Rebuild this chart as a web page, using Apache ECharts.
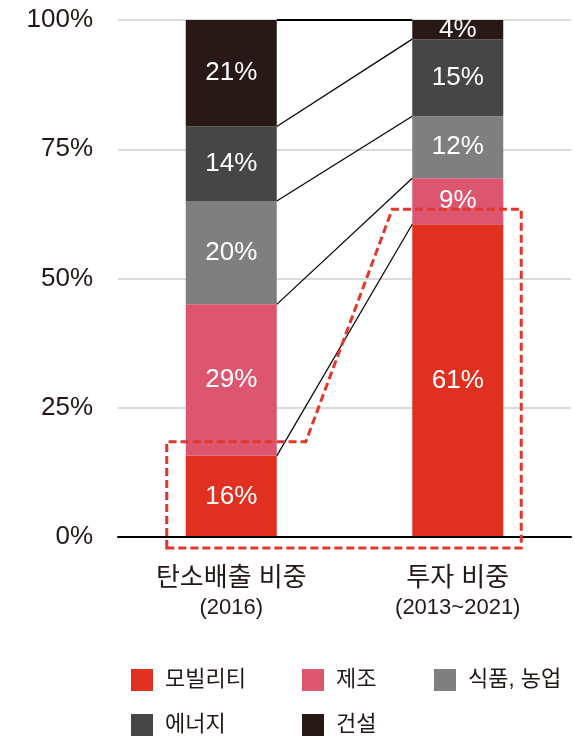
<!DOCTYPE html>
<html>
<head>
<meta charset="utf-8">
<script src="https://cdn.jsdelivr.net/npm/echarts@6/dist/echarts.min.js"></script>
<style>
html,body{margin:0;padding:0;background:#fff;}
#main{width:575px;height:736px;}
</style>
</head>
<body>
<div id="main"></div>
<script>
// 데이터
var catNames = ['탄소배출 비중', '투자 비중'];
var catYears = ['(2016)', '(2013~2021)'];
var sectorNames = ['모빌리티', '제조', '식품, 농업', '에너지', '건설'];
var sectorColors = ['#e03020', '#dc5670', '#7f7f7f', '#464646', '#281816'];
// 섹터별 비중 [탄소배출, 투자]
var mobility = [15.7, 60.5];
var manufacture = [29.3, 8.9];
var foodAgri = [20, 12];
var energy = [14.4, 14.9];
var construction = [20.6, 3.7];
var yTicks = [0, 25, 50, 75, 100];

var font = "'Liberation Sans','Noto Sans CJK KR',sans-serif";
var textColor = '#231815';
var barW = 91;

var sectorData = [mobility, manufacture, foodAgri, energy, construction];

// 누적 상단값
var tops0 = [], tops1 = [];
var s0 = 0, s1 = 0;
for (var i = 0; i < sectorData.length; i++) {
	s0 += sectorData[i][0];
	s1 += sectorData[i][1];
	tops0.push(s0);
	tops1.push(s1);
}

var chart = echarts.init(document.getElementById('main'));

var series = [];
for (var i = 0; i < sectorNames.length; i++) {
	series.push({
		name: sectorNames[i],
		type: 'bar',
		stack: 'total',
		barWidth: barW,
		data: sectorData[i],
		itemStyle: {color: sectorColors[i]},
		z: 2,
		label: {
			show: true,
			position: 'inside',
			color: '#fff',
			fontSize: 26,
			fontFamily: font,
			formatter: function (p) { return Math.round(p.value) + '%'; }
		}
	});
}

// 연결선
var connData = [];
for (var i = 0; i < tops0.length; i++) {
	connData.push([0, tops0[i], tops1[i]]);
}
series.push({
	type: 'custom',
	name: 'conn',
	z: 3,
	silent: true,
	clip: false,
	encode: {x: 0, y: [1, 2]},
	data: connData,
	renderItem: function (params, api) {
		var p1 = api.coord([0, api.value(1)]);
		var p2 = api.coord([1, api.value(2)]);
		var last = params.dataIndex === connData.length - 1;
		return {
			type: 'line',
			shape: {x1: p1[0] + barW / 2, y1: p1[1], x2: p2[0] - barW / 2, y2: p2[1]},
			style: {stroke: '#000', lineWidth: last ? 2 : 1.2}
		};
	}
});

// 모빌리티 강조 점선
series.push({
	type: 'custom',
	name: 'highlight',
	z: 5,
	silent: true,
	clip: false,
	encode: {x: 0, y: [1, 2]},
	data: [[0, mobility[0], mobility[1]]],
	renderItem: function (params, api) {
		var a = api.coord([0, api.value(1)]);
		var b = api.coord([1, api.value(2)]);
		var base = api.coord([0, 0]);
		var L1 = a[0] - barW / 2, R1 = a[0] + barW / 2;
		var L2 = b[0] - barW / 2, R2 = b[0] + barW / 2;
		var yT1 = a[1] - 14, yT2 = b[1] - 15, yB = base[1] + 11;
		return {
			type: 'polygon',
			shape: {points: [
				[L1 - 19, yB], [L1 - 19, yT1], [R1 + 29, yT1],
				[L2 - 20, yT2], [R2 + 18, yT2], [R2 + 18, yB]
			]},
			style: {fill: 'none', stroke: '#e2372a', lineWidth: 3, lineDash: [8, 4]}
		};
	}
});

// 범례 (3열 배치)
var legendPos = [[131, 669], [302, 669], [434, 669], [131, 714], [302, 714]];
var legends = [];
for (var i = 0; i < sectorNames.length; i++) {
	legends.push({
		left: legendPos[i][0],
		top: legendPos[i][1],
		padding: 0,
		itemWidth: 22,
		itemHeight: 22,
		icon: 'rect',
		selectedMode: false,
		data: [sectorNames[i]],
		textStyle: {color: textColor, fontSize: 22, fontFamily: font, lineHeight: 22, padding: [0, 0, 0, 7]}
	});
}

var option = {
	backgroundColor: '#fff',
	animation: false,
	grid: {left: 118, right: 4, top: 20, bottom: 199},
	legend: legends,
	xAxis: {
		type: 'category',
		data: catNames,
		axisTick: {show: false},
		axisLine: {show: true, lineStyle: {color: '#000', width: 2}},
		z: 4,
		axisLabel: {
			margin: 27,
			formatter: function (v, idx) {
				return '{a|' + v + '}\n{b|' + catYears[idx] + '}';
			},
			rich: {
				a: {fontSize: 26, lineHeight: 30, color: textColor, fontFamily: font},
				b: {fontSize: 22, lineHeight: 28, color: textColor, fontFamily: font}
			}
		}
	},
	yAxis: {
		type: 'value',
		min: yTicks[0],
		max: yTicks[yTicks.length - 1],
		interval: 25,
		axisLine: {show: false},
		axisTick: {show: false},
		splitLine: {lineStyle: {color: '#cfcfcf', width: 1.5}},
		axisLabel: {
			margin: 25,
			color: textColor,
			fontSize: 26,
			fontFamily: font,
			formatter: '{value}%'
		}
	},
	series: series
};

chart.setOption(option);
</script>
</body>
</html>
